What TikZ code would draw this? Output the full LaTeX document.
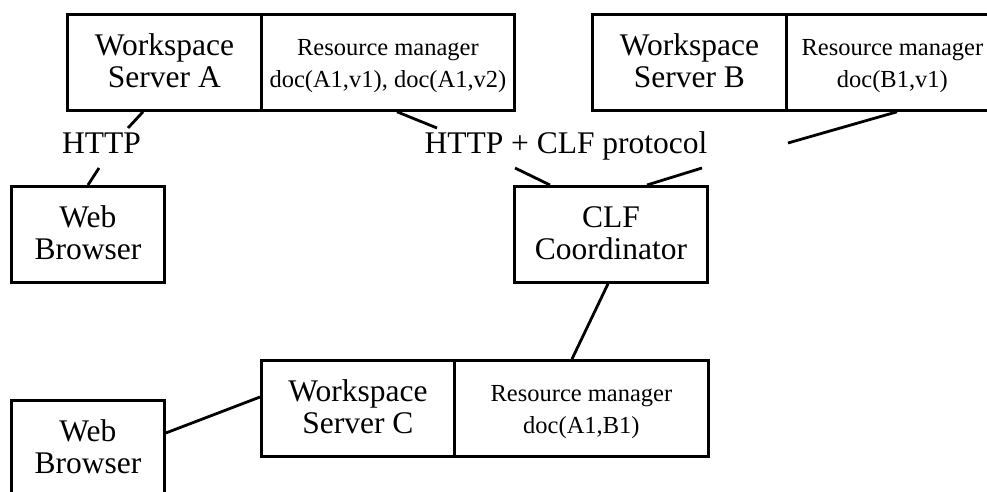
\documentclass[tikz,border=0pt]{standalone}
\usepackage{fontspec}
\setmainfont{Liberation Serif}
\usetikzlibrary{calc}

% type sizes: large labels and the resource-manager lines share one baseline grid
\newcommand\bigtext{\fontsize{31.5}{32}\selectfont}
\newcommand\smalltext{\fontsize{24.5}{32}\selectfont}
% invisible struts that fix the two-line text block inside each box
\newcommand\hi{\rule{0pt}{28.4pt}}
\newcommand\lo{\rule[-9.6pt]{0pt}{1pt}}

\tikzset{
  box/.style={draw, line width=2.8pt, rectangle, anchor=north west,
              inner sep=0pt, align=center, minimum height=96pt},
  big/.style={box, font=\bigtext},
  small/.style={box, font=\smalltext},
  link/.style={line width=2.8pt},
  lbl/.style={font=\bigtext, anchor=base, inner sep=0pt},
}

\begin{document}
\begin{tikzpicture}[x=1pt, y=-1pt]
  \useasboundingbox (0,0) rectangle (987,491);
  \clip (0,0) rectangle (987,491);

  % workspace servers with their resource managers
  \node[big,   minimum width=194pt] (wsA) at (66,13)  {\hi Workspace\\Server A\lo};
  \node[small, minimum width=253pt] (rmA) at (260,13) {\hi Resource manager\\doc(A1,v1), doc(A1,v2)\lo};

  \node[big,   minimum width=194pt] (wsB) at (591,13) {\hi Workspace\\Server B\lo};
  \node[small, minimum width=212pt] (rmB) at (785,13) {\hi Resource manager\\doc(B1,v1)\lo};

  \node[big,   minimum width=193pt] (wsC) at (260,359) {\hi Workspace\\Server C\lo};
  \node[small, minimum width=254pt] (rmC) at (453,359) {\hi Resource manager\\doc(A1,B1)\lo};

  % clients and coordinator
  \node[big, minimum width=153pt] (wb1)   at (10,185)  {\hi Web\\Browser\lo};
  \node[big, minimum width=193pt] (coord) at (513,185) {\hi CLF\\Coordinator\lo};
  \node[big, minimum width=153pt] (wb2)   at (10,399)  {\hi Web\\Browser\lo};

  % protocol labels
  \node[lbl] (http)  at (101.5,153) {HTTP};
  \node[lbl] (proto) at (566,153)   {HTTP + CLF protocol};

  % free ends of the links that stop short of the labels
  \coordinate (h1a) at (128,128);
  \coordinate (h1b) at (99,168);
  \coordinate (h2a) at (437,128);
  \coordinate (h2b) at (515,168);
  \coordinate (h2c) at (702,168);
  \coordinate (h2d) at (788,143);

  % links
  \draw[link] ($(wsA.south west)+(77,0)$) -- (h1a);
  \draw[link] (h1b) -- ($(wb1.north west)+(78,0)$);
  \draw[link] ($(rmA.south west)+(137,0)$) -- (h2a);
  \draw[link] (h2b) -- ($(coord.north west)+(37,0)$);
  \draw[link] (h2c) -- ($(coord.north west)+(134,0)$);
  \draw[link] ($(rmB.south west)+(112,0)$) -- (h2d);
  \draw[link] ($(coord.south west)+(95,0)$) -- ($(rmC.north west)+(119,0)$);
  \draw[link] ($(wb2.north east)+(0,34)$) -- ($(wsC.north west)+(0,38)$);
\end{tikzpicture}
\end{document}
